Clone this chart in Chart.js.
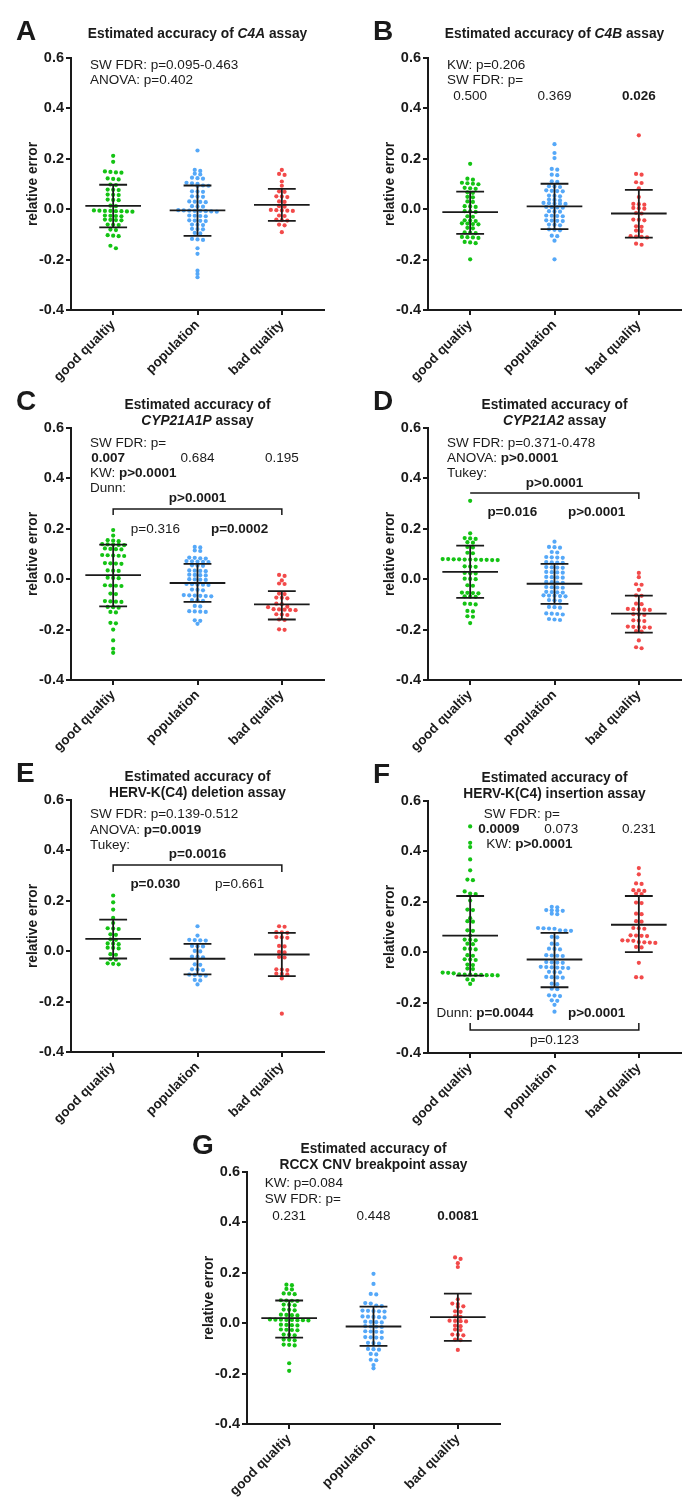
<!DOCTYPE html>
<html>
<head>
<meta charset="utf-8">
<script src="https://cdn.jsdelivr.net/npm/chart.js@4.4.0/dist/chart.umd.min.js"></script>
<style>
  html, body { margin: 0; padding: 0; background: #fff; }
  #fig { position: relative; width: 692px; height: 1500px; overflow: hidden; }
</style>
</head>
<body>
<div id="fig"></div>
<script>
// categories (the typo is in the original figure)
const categories = ['good qualtiy', 'population', 'bad quality'];

// A: C4A
const aGood = [0.212, 0.188, 0.150, 0.148, 0.146, 0.145, 0.122, 0.120, 0.118, 0.098, 0.096, 0.078, 0.077, 0.076, 0.058, 0.057, 0.056, 0.038, 0.037, 0.036, 0.014, 0.012, -0.005, -0.006, -0.007, -0.007, -0.008, -0.008, -0.009, -0.010, -0.025, -0.026, -0.027, -0.028, -0.041, -0.042, -0.043, -0.044, -0.061, -0.062, -0.063, -0.081, -0.083, -0.103, -0.105, -0.107, -0.145, -0.155];
const aPop = [0.233, 0.156, 0.152, 0.141, 0.138, 0.125, 0.123, 0.121, 0.105, 0.103, 0.101, 0.094, 0.093, 0.092, 0.071, 0.070, 0.069, 0.051, 0.050, 0.049, 0.031, 0.030, 0.029, 0.028, 0.012, 0.011, 0.010, -0.004, -0.005, -0.006, -0.007, -0.007, -0.008, -0.009, -0.010, -0.025, -0.026, -0.027, -0.028, -0.044, -0.045, -0.046, -0.047, -0.061, -0.062, -0.063, -0.078, -0.079, -0.080, -0.094, -0.096, -0.118, -0.120, -0.122, -0.155, -0.177, -0.244, -0.257, -0.270];
const aBad = [0.156, 0.140, 0.136, 0.110, 0.093, 0.071, 0.069, 0.051, 0.050, 0.048, 0.031, 0.029, 0.012, 0.010, -0.003, -0.004, -0.005, -0.006, -0.007, -0.025, -0.027, -0.041, -0.043, -0.045, -0.061, -0.064, -0.091];
const aMean = [0.013, -0.005, 0.017];
const aSdHi = [0.097, 0.094, 0.081];
const aSdLo = [-0.072, -0.106, -0.046];

// B: C4B
const bGood = [0.180, 0.121, 0.117, 0.105, 0.103, 0.101, 0.099, 0.085, 0.083, 0.081, 0.067, 0.065, 0.049, 0.047, 0.031, 0.029, 0.012, 0.011, 0.009, -0.008, -0.009, -0.011, -0.028, -0.030, -0.044, -0.045, -0.047, -0.056, -0.057, -0.059, -0.060, -0.074, -0.076, -0.092, -0.093, -0.095, -0.110, -0.111, -0.112, -0.114, -0.130, -0.132, -0.135, -0.199];
const bPop = [0.258, 0.223, 0.203, 0.160, 0.157, 0.137, 0.135, 0.111, 0.109, 0.091, 0.090, 0.088, 0.075, 0.073, 0.072, 0.071, 0.054, 0.053, 0.051, 0.038, 0.037, 0.035, 0.025, 0.024, 0.023, 0.022, 0.021, 0.009, 0.008, 0.007, 0.006, -0.008, -0.009, -0.010, -0.025, -0.026, -0.027, -0.028, -0.044, -0.045, -0.046, -0.047, -0.061, -0.062, -0.064, -0.080, -0.082, -0.084, -0.105, -0.107, -0.125, -0.199];
const bBad = [0.293, 0.140, 0.137, 0.107, 0.104, 0.083, 0.048, 0.021, 0.020, 0.018, 0.005, 0.004, 0.002, -0.015, -0.017, -0.041, -0.042, -0.044, -0.068, -0.070, -0.085, -0.087, -0.107, -0.109, -0.110, -0.112, -0.137, -0.141];
const bMean = [-0.012, 0.011, -0.017];
const bSdHi = [0.070, 0.101, 0.077];
const bSdLo = [-0.098, -0.079, -0.113];

// C: CYP21A1P
const cGood = [0.195, 0.173, 0.155, 0.153, 0.151, 0.139, 0.138, 0.137, 0.136, 0.135, 0.122, 0.120, 0.119, 0.118, 0.096, 0.095, 0.094, 0.093, 0.092, 0.064, 0.063, 0.062, 0.061, 0.035, 0.034, 0.033, 0.006, 0.005, 0.004, -0.024, -0.025, -0.026, -0.027, -0.057, -0.059, -0.087, -0.088, -0.089, -0.090, -0.110, -0.111, -0.113, -0.130, -0.132, -0.173, -0.175, -0.200, -0.243, -0.276, -0.292];
const cPop = [0.128, 0.126, 0.114, 0.112, 0.086, 0.085, 0.083, 0.082, 0.072, 0.071, 0.070, 0.069, 0.068, 0.055, 0.054, 0.053, 0.035, 0.034, 0.033, 0.032, 0.018, 0.017, 0.016, 0.015, 0.000, -0.001, -0.002, -0.003, -0.019, -0.020, -0.021, -0.022, -0.023, -0.041, -0.042, -0.044, -0.063, -0.064, -0.065, -0.066, -0.067, -0.068, -0.083, -0.084, -0.086, -0.106, -0.108, -0.127, -0.128, -0.129, -0.130, -0.163, -0.165, -0.177];
const cBad = [0.017, 0.013, -0.005, -0.017, -0.019, -0.057, -0.059, -0.073, -0.074, -0.076, -0.097, -0.099, -0.109, -0.111, -0.119, -0.120, -0.121, -0.122, -0.123, -0.139, -0.140, -0.142, -0.160, -0.162, -0.199, -0.201];
const cMean = [0.016, -0.015, -0.100];
const cSdHi = [0.137, 0.061, -0.047];
const cSdLo = [-0.108, -0.090, -0.160];

// D: CYP21A2
const dGood = [0.311, 0.182, 0.163, 0.162, 0.160, 0.147, 0.145, 0.128, 0.126, 0.105, 0.103, 0.080, 0.080, 0.079, 0.079, 0.078, 0.078, 0.078, 0.077, 0.077, 0.076, 0.076, 0.051, 0.050, 0.049, 0.025, 0.024, 0.023, 0.002, 0.001, 0.000, -0.024, -0.026, -0.053, -0.054, -0.055, -0.056, -0.068, -0.069, -0.070, -0.097, -0.098, -0.100, -0.126, -0.128, -0.147, -0.149, -0.174];
const dPop = [0.149, 0.128, 0.127, 0.125, 0.108, 0.106, 0.088, 0.087, 0.086, 0.085, 0.068, 0.067, 0.066, 0.065, 0.048, 0.047, 0.046, 0.045, 0.029, 0.028, 0.027, 0.026, 0.009, 0.008, 0.007, 0.006, -0.011, -0.012, -0.013, -0.014, -0.031, -0.032, -0.033, -0.034, -0.050, -0.051, -0.052, -0.053, -0.064, -0.065, -0.066, -0.067, -0.068, -0.083, -0.084, -0.086, -0.110, -0.111, -0.113, -0.136, -0.137, -0.138, -0.140, -0.158, -0.160, -0.162];
const dBad = [0.025, 0.008, -0.020, -0.022, -0.042, -0.064, -0.066, -0.097, -0.099, -0.118, -0.119, -0.120, -0.121, -0.122, -0.139, -0.140, -0.142, -0.163, -0.164, -0.166, -0.188, -0.189, -0.190, -0.191, -0.192, -0.206, -0.208, -0.243, -0.270, -0.274];
const dMean = [0.029, -0.018, -0.137];
const dSdHi = [0.133, 0.061, -0.065];
const dSdLo = [-0.074, -0.098, -0.212];

// E: HERV-K(C4) deletion
const eGood = [0.221, 0.194, 0.165, 0.132, 0.112, 0.091, 0.090, 0.088, 0.067, 0.065, 0.047, 0.045, 0.031, 0.030, 0.028, 0.014, 0.013, 0.011, -0.012, -0.014, -0.032, -0.034, -0.048, -0.050, -0.052];
const ePop = [0.099, 0.062, 0.045, 0.044, 0.043, 0.042, 0.021, 0.020, 0.019, 0.001, -0.001, -0.021, -0.022, -0.024, -0.052, -0.054, -0.072, -0.073, -0.075, -0.093, -0.094, -0.096, -0.097, -0.114, -0.116, -0.132];
const eBad = [0.099, 0.097, 0.076, 0.075, 0.073, 0.056, 0.055, 0.053, 0.021, 0.019, -0.003, -0.005, -0.023, -0.025, -0.072, -0.073, -0.075, -0.089, -0.090, -0.092, -0.108, -0.248];
const eMean = [0.049, -0.030, -0.013];
const eSdHi = [0.125, 0.029, 0.073];
const eSdLo = [-0.029, -0.092, -0.099];

// F: HERV-K(C4) insertion
const fGood = [0.499, 0.434, 0.417, 0.368, 0.325, 0.288, 0.286, 0.241, 0.233, 0.231, 0.205, 0.169, 0.167, 0.135, 0.123, 0.121, 0.087, 0.085, 0.066, 0.050, 0.049, 0.047, 0.034, 0.032, 0.014, 0.013, 0.011, -0.012, -0.014, -0.028, -0.029, -0.031, -0.049, -0.051, -0.065, -0.067, -0.081, -0.082, -0.084, -0.088, -0.089, -0.089, -0.090, -0.090, -0.091, -0.091, -0.092, -0.108, -0.110, -0.126];
const fPop = [0.180, 0.178, 0.167, 0.166, 0.165, 0.164, 0.153, 0.151, 0.096, 0.095, 0.094, 0.093, 0.087, 0.086, 0.085, 0.061, 0.059, 0.034, 0.032, 0.014, 0.013, 0.011, -0.012, -0.013, -0.014, -0.015, -0.039, -0.040, -0.041, -0.042, -0.058, -0.059, -0.060, -0.061, -0.062, -0.063, -0.078, -0.079, -0.080, -0.098, -0.099, -0.100, -0.101, -0.125, -0.127, -0.145, -0.147, -0.171, -0.172, -0.174, -0.191, -0.193, -0.209, -0.236];
const fBad = [0.334, 0.309, 0.273, 0.271, 0.246, 0.245, 0.243, 0.233, 0.231, 0.197, 0.195, 0.153, 0.151, 0.123, 0.121, 0.096, 0.095, 0.093, 0.067, 0.066, 0.065, 0.064, 0.047, 0.046, 0.045, 0.040, 0.039, 0.038, 0.037, 0.021, 0.019, -0.042, -0.099, -0.100];
const fMean = [0.066, -0.029, 0.109];
const fSdHi = [0.223, 0.077, 0.223];
const fSdLo = [-0.093, -0.139, 0.000];

// G: RCCX CNV breakpoint
const gGood = [0.153, 0.151, 0.136, 0.134, 0.118, 0.117, 0.115, 0.091, 0.090, 0.089, 0.088, 0.074, 0.073, 0.071, 0.054, 0.053, 0.051, 0.034, 0.033, 0.032, 0.031, 0.015, 0.014, 0.014, 0.013, 0.013, 0.012, 0.012, 0.011, -0.006, -0.007, -0.008, -0.009, -0.025, -0.026, -0.027, -0.028, -0.045, -0.046, -0.048, -0.065, -0.066, -0.068, -0.085, -0.086, -0.088, -0.159, -0.189];
const gPop = [0.196, 0.156, 0.116, 0.114, 0.080, 0.078, 0.070, 0.068, 0.050, 0.049, 0.048, 0.047, 0.046, 0.027, 0.026, 0.025, 0.024, 0.023, 0.006, 0.005, 0.004, 0.003, -0.012, -0.013, -0.014, -0.015, -0.032, -0.033, -0.034, -0.035, -0.055, -0.056, -0.057, -0.058, -0.078, -0.079, -0.081, -0.102, -0.103, -0.105, -0.122, -0.124, -0.145, -0.147, -0.166, -0.179];
const gBad = [0.261, 0.255, 0.238, 0.223, 0.095, 0.078, 0.076, 0.067, 0.065, 0.047, 0.045, 0.027, 0.025, 0.010, 0.009, 0.008, 0.007, -0.010, -0.012, -0.025, -0.027, -0.045, -0.046, -0.048, -0.065, -0.067, -0.106];
const gMean = [0.020, -0.013, 0.024];
const gSdHi = [0.090, 0.066, 0.117];
const gSdLo = [-0.057, -0.090, -0.070];

const FONT = '"Liberation Sans", Arial, sans-serif';
const INK = '#1a1a1a';
const COLORS = ['#14c314', '#55a8f8', '#f24a4a'];
const PX_X = 253 / 3;   // plot pixels per category unit
const GAP = 5.5;        // dot spacing inside a row, px
const ROW_TOL = 0.012;  // values closer than this share a row

// Prism-like scatter: close values are put in one row and spread sideways
function swarm(values, center) {
  const sorted = values.slice().sort((p, q) => q - p);
  const rows = [];
  sorted.forEach(v => {
    const row = rows[rows.length - 1];
    if (row && row[0] - v < ROW_TOL) row.push(v); else rows.push([v]);
  });
  const out = [];
  rows.forEach(row => row.forEach((v, k) => {
    const off = (k - (row.length - 1) / 2) * GAP;
    out.push({ x: center + off / PX_X, y: v });
  }));
  return out;
}

// mean line + SD whiskers as one broken line
function meanSd(c, m, hi, lo) {
  const w = 0.33, cap = 0.165;
  return [
    { x: c - w, y: m }, { x: c + w, y: m }, { x: c, y: null },
    { x: c - cap, y: hi }, { x: c + cap, y: hi }, { x: c, y: null },
    { x: c, y: hi }, { x: c, y: lo }, { x: c, y: null },
    { x: c - cap, y: lo }, { x: c + cap, y: lo }
  ];
}

function fontFor(style, size) {
  return (style.includes('i') ? 'italic ' : '') + (style.includes('b') ? 'bold ' : '') + size + 'px ' + FONT;
}

function drawRuns(ctx, runs, x, y, align, size) {
  let total = 0;
  runs.forEach(([t, s]) => { ctx.font = fontFor(s, size); total += ctx.measureText(t).width; });
  let cx = align === 'center' ? x - total / 2 : x;
  ctx.textAlign = 'left';
  runs.forEach(([t, s]) => {
    ctx.font = fontFor(s, size);
    ctx.fillText(t, cx, y);
    cx += ctx.measureText(t).width;
  });
}

const panelText = {
  id: 'panelText',
  afterDraw(chart, args, opts) {
    const { ctx, chartArea: area, scales: { x, y } } = chart;
    ctx.save();
    ctx.fillStyle = INK;
    ctx.textAlign = 'left';
    ctx.textBaseline = 'alphabetic';
    ctx.font = 'bold 28px ' + FONT;
    ctx.fillText(opts.letter, area.left - 55, area.top - 18);
    const base = opts.title.length === 1 ? [-20] : [-19, -3];
    opts.title.forEach((runs, i) =>
      drawRuns(ctx, runs, (area.left + area.right) / 2, area.top + base[i], 'center', 13.75));
    ctx.textBaseline = 'middle';
    opts.notes.forEach(n =>
      drawRuns(ctx, n.runs, x.getPixelForValue(n.x), y.getPixelForValue(n.y), n.align, 13.5));
    ctx.strokeStyle = INK;
    ctx.lineWidth = 1.5;
    opts.brackets.forEach(b => {
      const x1 = x.getPixelForValue(b.x1), x2 = x.getPixelForValue(b.x2);
      const y1 = y.getPixelForValue(b.y), y2 = y.getPixelForValue(b.end);
      ctx.beginPath();
      if (b.leftTick === false) ctx.moveTo(x1, y1);
      else { ctx.moveTo(x1, y2); ctx.lineTo(x1, y1); }
      ctx.lineTo(x2, y1);
      ctx.lineTo(x2, y2);
      ctx.stroke();
    });
    ctx.restore();
  }
};

const n = t => [[t, 'n']];
const b = t => [[t, 'b']];
const titleOf = (gene, italic) => italic
  ? [[['Estimated accuracy of ', 'b'], [gene, 'bi'], [' assay', 'b']]]
  : [[['Estimated accuracy of', 'b']], [[gene + ' assay', 'b']]];

const panels = [
  { letter: 'A', left: 0, top: 0, groups: [aGood, aPop, aBad], mean: aMean, hi: aSdHi, lo: aSdLo,
    title: titleOf('C4A', true),
    notes: [
      { x: 0.225, y: 0.572, align: 'left', runs: n('SW FDR: p=0.095-0.463') },
      { x: 0.225, y: 0.513, align: 'left', runs: n('ANOVA: p=0.402') }
    ], brackets: [] },
  { letter: 'B', left: 357, top: 0, groups: [bGood, bPop, bBad], mean: bMean, hi: bSdHi, lo: bSdLo,
    title: titleOf('C4B', true),
    notes: [
      { x: 0.225, y: 0.572, align: 'left', runs: n('KW: p=0.206') },
      { x: 0.225, y: 0.513, align: 'left', runs: n('SW FDR: p=') },
      { x: 0.5, y: 0.449, align: 'center', runs: n('0.500') },
      { x: 1.5, y: 0.449, align: 'center', runs: n('0.369') },
      { x: 2.5, y: 0.449, align: 'center', runs: b('0.026') }
    ], brackets: [] },
  { letter: 'C', left: 0, top: 370, groups: [cGood, cPop, cBad], mean: cMean, hi: cSdHi, lo: cSdLo,
    title: [[['Estimated accuracy of', 'b']], [['CYP21A1P', 'bi'], [' assay', 'b']]],
    notes: [
      { x: 0.225, y: 0.540, align: 'left', runs: n('SW FDR: p=') },
      { x: 0.44, y: 0.481, align: 'center', runs: b('0.007') },
      { x: 1.5, y: 0.481, align: 'center', runs: n('0.684') },
      { x: 2.5, y: 0.481, align: 'center', runs: n('0.195') },
      { x: 0.225, y: 0.421, align: 'left', runs: [['KW: ', 'n'], ['p>0.0001', 'b']] },
      { x: 0.225, y: 0.362, align: 'left', runs: n('Dunn:') },
      { x: 1.5, y: 0.322, align: 'center', runs: b('p>0.0001') },
      { x: 1.0, y: 0.199, align: 'center', runs: n('p=0.316') },
      { x: 2.0, y: 0.199, align: 'center', runs: b('p=0.0002') }
    ], brackets: [{ x1: 0.5, x2: 2.5, y: 0.279, end: 0.255 }] },
  { letter: 'D', left: 357, top: 370, groups: [dGood, dPop, dBad], mean: dMean, hi: dSdHi, lo: dSdLo,
    title: [[['Estimated accuracy of', 'b']], [['CYP21A2', 'bi'], [' assay', 'b']]],
    notes: [
      { x: 0.225, y: 0.540, align: 'left', runs: n('SW FDR: p=0.371-0.478') },
      { x: 0.225, y: 0.481, align: 'left', runs: [['ANOVA: ', 'n'], ['p>0.0001', 'b']] },
      { x: 0.225, y: 0.421, align: 'left', runs: n('Tukey:') },
      { x: 1.5, y: 0.382, align: 'center', runs: b('p>0.0001') },
      { x: 1.0, y: 0.267, align: 'center', runs: b('p=0.016') },
      { x: 2.0, y: 0.267, align: 'center', runs: b('p>0.0001') }
    ], brackets: [{ x1: 0.5, x2: 2.5, y: 0.342, end: 0.318, leftTick: false }] },
  { letter: 'E', left: 0, top: 742, groups: [eGood, ePop, eBad], mean: eMean, hi: eSdHi, lo: eSdLo,
    title: titleOf('HERV-K(C4) deletion', false),
    notes: [
      { x: 0.225, y: 0.544, align: 'left', runs: n('SW FDR: p=0.139-0.512') },
      { x: 0.225, y: 0.481, align: 'left', runs: [['ANOVA: ', 'n'], ['p=0.0019', 'b']] },
      { x: 0.225, y: 0.421, align: 'left', runs: n('Tukey:') },
      { x: 1.5, y: 0.386, align: 'center', runs: b('p=0.0016') },
      { x: 1.0, y: 0.267, align: 'center', runs: b('p=0.030') },
      { x: 2.0, y: 0.267, align: 'center', runs: n('p=0.661') }
    ], brackets: [{ x1: 0.5, x2: 2.5, y: 0.342, end: 0.314 }] },
  { letter: 'F', left: 357, top: 743, groups: [fGood, fPop, fBad], mean: fMean, hi: fSdHi, lo: fSdLo,
    title: titleOf('HERV-K(C4) insertion', false),
    notes: [
      { x: 0.66, y: 0.548, align: 'left', runs: n('SW FDR: p=') },
      { x: 0.84, y: 0.489, align: 'center', runs: b('0.0009') },
      { x: 1.58, y: 0.489, align: 'center', runs: n('0.073') },
      { x: 2.5, y: 0.489, align: 'center', runs: n('0.231') },
      { x: 0.69, y: 0.429, align: 'left', runs: [['KW: ', 'n'], ['p>0.0001', 'b']] },
      { x: 0.1, y: -0.241, align: 'left', runs: [['Dunn: ', 'n'], ['p=0.0044', 'b']] },
      { x: 2.0, y: -0.241, align: 'center', runs: b('p>0.0001') },
      { x: 1.5, y: -0.348, align: 'center', runs: n('p=0.123') }
    ], brackets: [{ x1: 0.5, x2: 2.5, y: -0.309, end: -0.281 }] },
  { letter: 'G', left: 176, top: 1114, groups: [gGood, gPop, gBad], mean: gMean, hi: gSdHi, lo: gSdLo,
    title: titleOf('RCCX CNV breakpoint', false),
    notes: [
      { x: 0.21, y: 0.556, align: 'left', runs: n('KW: p=0.084') },
      { x: 0.21, y: 0.493, align: 'left', runs: n('SW FDR: p=') },
      { x: 0.5, y: 0.425, align: 'center', runs: n('0.231') },
      { x: 1.5, y: 0.425, align: 'center', runs: n('0.448') },
      { x: 2.5, y: 0.425, align: 'center', runs: b('0.0081') }
    ], brackets: [] }
];

const axisLine = { drawOnChartArea: false, drawTicks: true, tickLength: 5, color: INK, lineWidth: 2 };

function makeChart(p) {
  const cv = document.createElement('canvas');
  cv.width = 335;
  cv.height = 390;
  cv.style.cssText = `position:absolute;left:${p.left}px;top:${p.top}px;width:335px;height:390px`;
  document.getElementById('fig').appendChild(cv);

  const datasets = [];
  p.groups.forEach((vals, g) => datasets.push({
    data: meanSd(g + 0.5, p.mean[g], p.hi[g], p.lo[g]),
    showLine: true, spanGaps: false, borderColor: INK, borderWidth: 1.8,
    pointRadius: 0, order: 1
  }));
  p.groups.forEach((vals, g) => datasets.push({
    data: swarm(vals, g + 0.5),
    pointRadius: 2.1, pointBorderWidth: 0,
    pointBackgroundColor: COLORS[g], backgroundColor: COLORS[g], order: 2
  }));

  new Chart(cv, {
    type: 'scatter',
    data: { datasets },
    options: {
      responsive: false,
      animation: false,
      devicePixelRatio: 1,
      events: [],
      layout: { padding: { top: 58, left: 0, right: 11, bottom: 0 } },
      plugins: {
        legend: { display: false },
        tooltip: { enabled: false },
        panelText: { letter: p.letter, title: p.title, notes: p.notes, brackets: p.brackets }
      },
      scales: {
        x: {
          type: 'linear', min: 0, max: 3,
          afterBuildTicks: s => { s.ticks = categories.map((c, i) => ({ value: i + 0.5 })); },
          afterFit: s => { s.height = 80; },
          ticks: {
            autoSkip: false, minRotation: 45, maxRotation: 45, padding: 2, color: INK,
            font: { family: FONT, size: 13.5, weight: 'bold' },
            callback: v => categories[Math.floor(v)]
          },
          grid: axisLine,
          border: { color: INK, width: 2 }
        },
        y: {
          min: -0.4, max: 0.6,
          afterFit: s => { s.width = 71; },
          ticks: {
            stepSize: 0.2, padding: 2, color: INK,
            font: { family: FONT, size: 14.5, weight: 'bold' },
            callback: v => (Math.abs(v) < 1e-9 ? 0 : v).toFixed(1)
          },
          grid: axisLine,
          border: { color: INK, width: 2 },
          title: {
            display: true, text: 'relative error', color: INK,
            font: { family: FONT, size: 13.75, weight: 'bold' },
            padding: { top: 25, bottom: 0 }
          }
        }
      }
    },
    plugins: [panelText]
  });
}

panels.forEach(makeChart);
</script>
</body>
</html>
